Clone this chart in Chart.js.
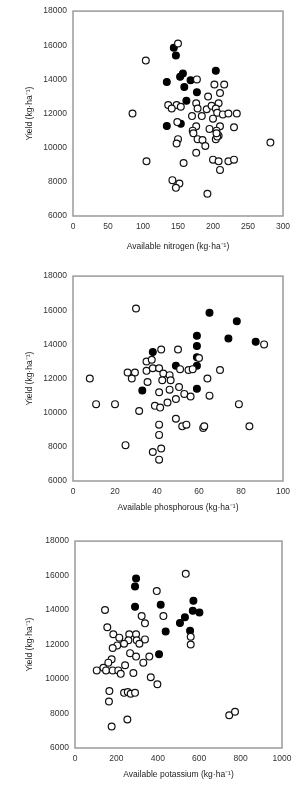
<!DOCTYPE html>
<html>
<head>
<meta charset="utf-8">
<script src="https://cdn.jsdelivr.net/npm/chart.js@4"></script>
<style>
  body { margin: 0; background: #fff; }
  canvas { position: absolute; left: 0; }
</style>
</head>
<body>
<canvas id="nChart" width="305" height="265" style="top:0px"></canvas>
<canvas id="pChart" width="305" height="265" style="top:265px"></canvas>
<canvas id="kChart" width="305" height="265" style="top:530px"></canvas>
<script>
// [available nutrient, yield] pairs; filled = black dots, open = white dots
var nitrogenFilled = [[144,15850],[147,15400],[204,14500],[157,14350],[153,14150],[134,13850],[168,13950],[159,13550],[177,13250],[162,12750],[154,11400],[134,11270]];
var nitrogenOpen = [[150,16100],[104,15100],[177,14000],[202,13700],[216,13700],[210,13200],[193,13000],[176,12600],[208,12600],[136,12500],[148,12500],[141,12300],[154,12400],[178,12300],[191,12250],[198,12450],[204,12300],[206,12050],[214,11950],[222,12000],[234,12000],[85,12000],[184,11850],[170,11850],[200,11700],[149,11500],[176,11250],[210,11250],[230,11200],[171,11000],[195,11100],[205,11000],[208,10700],[204,10500],[178,10500],[185,10450],[189,10100],[150,10500],[148,10250],[206,10650],[172,10850],[205,10850],[282,10300],[176,9700],[105,9200],[158,9100],[200,9300],[208,9200],[222,9200],[230,9300],[210,8700],[142,8100],[152,7900],[147,7650],[192,7300]];

var phosphorusFilled = [[65,15850],[78,15350],[59,14500],[74,14350],[87,14150],[59,13900],[59,13250],[59,12750],[49,12750],[38,13550],[33,11300],[59,11400]];
var phosphorusOpen = [[30,16100],[42,13700],[50,13700],[91,14000],[35,13000],[37.5,13100],[60,13200],[35,12450],[38,12600],[41,12600],[43,12300],[46,12200],[46.5,11900],[51,12550],[55,12500],[57,12550],[70,12500],[64,12000],[8,12000],[26,12350],[29.5,12350],[28,12000],[35.5,11800],[41,11200],[42.5,11900],[46,11350],[50.5,11500],[53,11100],[56,10950],[65,11000],[11,10500],[20,10500],[31.5,10100],[39,10400],[41.5,10300],[45,10600],[49,10800],[79,10500],[49,9650],[52,9200],[54,9300],[62,9100],[62.5,9200],[84,9200],[41,9300],[41,8700],[25,8100],[42,7900],[38,7700],[41,7250]];

var potassiumFilled = [[295,15830],[290,15370],[572,14540],[414,14310],[290,14190],[569,13960],[601,13860],[531,13580],[507,13250],[438,12750],[556,12800],[406,11440]];
var potassiumOpen = [[535,16100],[395,15100],[145,14000],[322,13650],[427,13650],[338,13230],[156,13000],[559,12450],[559,12000],[185,12600],[214,12400],[262,12600],[295,12600],[258,12250],[298,12250],[338,12300],[311,12050],[237,12050],[204,11950],[182,11800],[177,11150],[266,11500],[295,11300],[359,11300],[161,10950],[105,10500],[137,10650],[150,10500],[182,10500],[209,10500],[221,10300],[242,10800],[282,10350],[330,10950],[366,10100],[398,9700],[166,9300],[164,8700],[237,9200],[255,9250],[269,9150],[290,9200],[253,7650],[177,7250],[745,7900],[773,8100]];

var yieldTicks = { min: 6000, max: 18000, step: 2000 };
var yTitle = "Yield (kg\u00b7ha\u207b\u00b9)";

function toPoints(pairs) {
  return pairs.map(function (p) { return { x: p[0], y: p[1] }; });
}

function plainNumber(value) {
  return String(value);
}

// grey box round the plot area
var boxPlugin = {
  id: "box",
  afterDraw: function (chart) {
    var a = chart.chartArea, ctx = chart.ctx;
    ctx.save();
    ctx.strokeStyle = "#9a9a9a";
    ctx.lineWidth = 1.5;
    ctx.strokeRect(a.left, a.top, a.right - a.left, a.bottom - a.top);
    ctx.restore();
  },
};

function makeChart(id, filled, open, xMax, xStep, xTitle, area) {
  var ctx = document.getElementById(id).getContext("2d");
  return new Chart(ctx, {
    type: "scatter",
    data: {
      datasets: [
        {
          data: toPoints(open),
          backgroundColor: "#ffffff",
          borderColor: "#111111",
          borderWidth: 1.2,
          pointRadius: 3.4,
        },
        {
          data: toPoints(filled),
          backgroundColor: "#000000",
          borderColor: "#000000",
          borderWidth: 1.2,
          pointRadius: 3.4,
        },
      ],
    },
    options: {
      responsive: false,
      animation: false,
      devicePixelRatio: 1,
      layout: { padding: { top: area.top, right: area.right, left: 0, bottom: 0 } },
      plugins: { legend: { display: false }, tooltip: { enabled: false } },
      scales: {
        x: {
          type: "linear",
          min: 0,
          max: xMax,
          grid: { display: false, drawTicks: false },
          border: { display: false },
          ticks: { stepSize: xStep, padding: 6, color: "#333", callback: plainNumber, font: { family: "Liberation Sans", size: 8.5 } },
          title: {
            display: true,
            text: xTitle,
            color: "#222",
            font: { family: "Liberation Sans", size: 8.5 },
            padding: { top: 0, bottom: area.xTitlePad },
          },
          afterFit: function (scale) { scale.height = area.xHeight; },
        },
        y: {
          type: "linear",
          min: yieldTicks.min,
          max: yieldTicks.max,
          grid: { display: false, drawTicks: false },
          border: { display: false },
          ticks: { stepSize: yieldTicks.step, padding: 6, color: "#333", callback: plainNumber, font: { family: "Liberation Sans", size: 8.5 } },
          title: {
            display: true,
            text: yTitle,
            color: "#222",
            font: { family: "Liberation Sans", size: 8.5 },
            padding: { top: 25, bottom: 0 },
          },
          afterFit: function (scale) { scale.width = area.yWidth; },
        },
      },
    },
    plugins: [boxPlugin],
  });
}

window.addEventListener("DOMContentLoaded", function () {
  makeChart("nChart", nitrogenFilled, nitrogenOpen, 300, 50,
    "Available nitrogen (kg\u00b7ha\u207b\u00b9)",
    { top: 9, right: 22, yWidth: 73, xHeight: 49, xTitlePad: 13 });
  makeChart("pChart", phosphorusFilled, phosphorusOpen, 100, 20,
    "Available phosphorous (kg\u00b7ha\u207b\u00b9)",
    { top: 8, right: 22, yWidth: 73, xHeight: 49, xTitlePad: 17 });
  makeChart("kChart", potassiumFilled, potassiumOpen, 1000, 200,
    "Available potassium (kg\u00b7ha\u207b\u00b9)",
    { top: 10, right: 23, yWidth: 75, xHeight: 47, xTitlePad: 15 });
});
</script>
</body>
</html>
